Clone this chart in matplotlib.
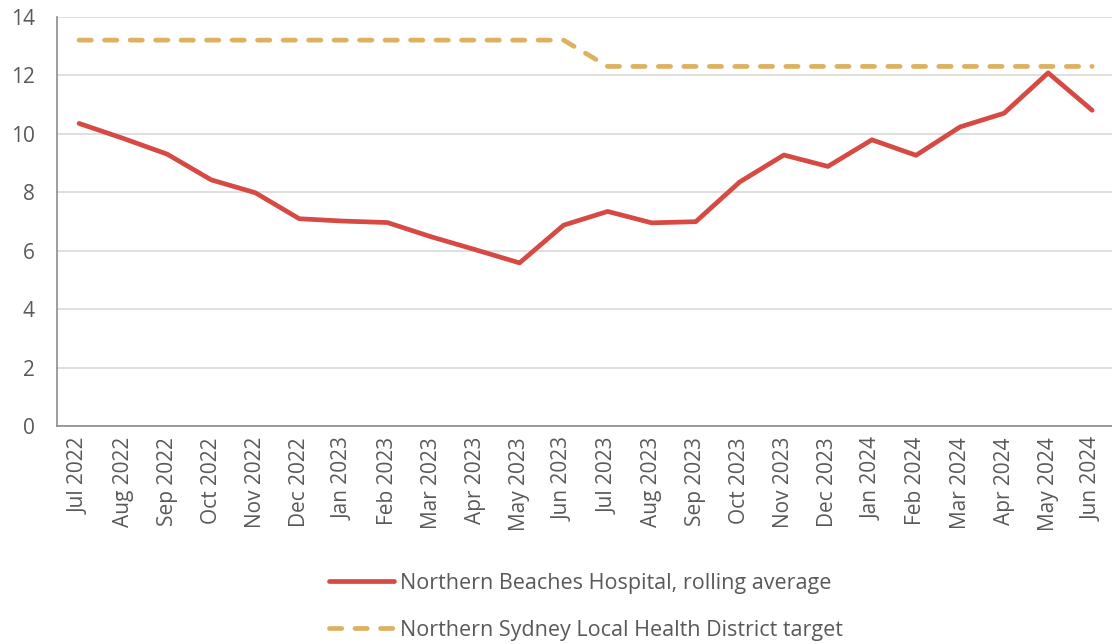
import matplotlib
matplotlib.use('Agg')
import matplotlib.pyplot as plt
import numpy as np

# Data
months = ['Jul 2022', 'Aug 2022', 'Sep 2022', 'Oct 2022', 'Nov 2022', 'Dec 2022',
          'Jan 2023', 'Feb 2023', 'Mar 2023', 'Apr 2023', 'May 2023', 'Jun 2023',
          'Jul 2023', 'Aug 2023', 'Sep 2023', 'Oct 2023', 'Nov 2023', 'Dec 2023',
          'Jan 2024', 'Feb 2024', 'Mar 2024', 'Apr 2024', 'May 2024', 'Jun 2024']
hospital = [10.35, 9.84, 9.3, 8.42, 7.98, 7.09, 7.01, 6.96, 6.47, 6.03, 5.58, 6.87,
            7.34, 6.95, 6.99, 8.35, 9.27, 8.88, 9.79, 9.26, 10.23, 10.7, 12.08, 10.8]
target = [13.2] * 12 + [12.3] * 12
hospital_label = 'Northern Beaches Hospital, rolling average'
target_label = 'Northern Sydney Local Health District target'

text_color = '#595959'
plt.rcParams['font.family'] = ['Open Sans', 'DejaVu Sans']

fig = plt.figure(figsize=(11.12, 6.44), dpi=100)
ax = fig.add_axes([0.0513, 0.3385, 0.9487, 0.6355])

x = np.arange(len(months))
ax.plot(x, hospital, color='#D64A43', linewidth=3.4, solid_capstyle='round',
        solid_joinstyle='round', label=hospital_label, zorder=3)
ax.plot(x, target, color='#DDB15F', linewidth=3.4, dashes=(2.6, 2.8),
        dash_capstyle='round', label=target_label, zorder=3)

ax.set_ylim(0, 14)
ax.set_yticks(np.arange(0, 15, 2))
ax.set_xlim(-0.5, 23.45)
ax.set_xticks(x)
ax.set_xticklabels(months, rotation=90)
ax.tick_params(axis='both', length=0, labelsize=15, colors=text_color)
ax.tick_params(axis='x', pad=8)
ax.tick_params(axis='y', pad=16)

ax.grid(axis='y', color='#D9D9D9', linewidth=1.2, zorder=0)
ax.set_axisbelow(True)
for side in ['top', 'right']:
    ax.spines[side].set_visible(False)
for side in ['left', 'bottom']:
    ax.spines[side].set_color('#8C8C8C')
    ax.spines[side].set_linewidth(1.2)

leg = fig.legend(loc='center', bbox_to_anchor=(0.527, 0.058), ncol=1, frameon=False,
                 fontsize=15.5, handlelength=3.0, handletextpad=0.3, labelspacing=1.2)
for t in leg.get_texts():
    t.set_color(text_color)

fig.savefig('out.png', dpi=100)
